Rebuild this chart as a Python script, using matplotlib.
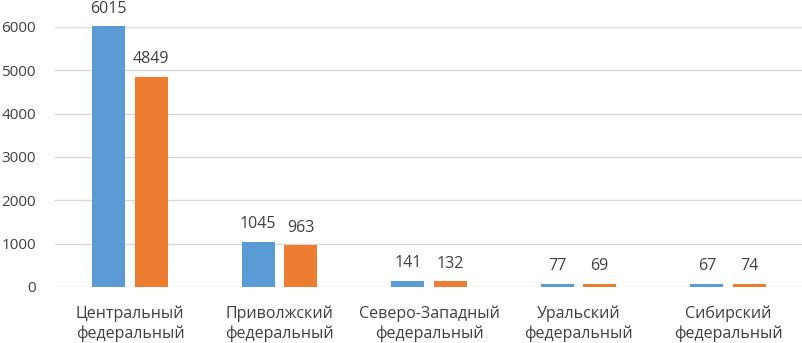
import matplotlib.pyplot as plt
import numpy as np

categories = ["Центральный\nфедеральный", "Приволжский\nфедеральный",
              "Северо-Западный\nфедеральный", "Уральский\nфедеральный",
              "Сибирский\nфедеральный"]
series_a = [6015, 1045, 141, 77, 67]
series_b = [4849, 963, 132, 69, 74]
yticks = [0, 1000, 2000, 3000, 4000, 5000, 6000]

BLUE = "#5B9BD5"
ORANGE = "#ED7D31"

plt.rcParams['font.family'] = ['Open Sans', 'DejaVu Sans']

fig = plt.figure(figsize=(8.02, 3.43), dpi=100)
ax = fig.add_axes([55.25 / 802, 56 / 343, 747.5 / 802, 260 / 343])

x = np.arange(len(categories))
w = 0.22
off = 0.142
bars_a = ax.bar(x - off, series_a, w, color=BLUE, zorder=3, clip_on=False)
bars_b = ax.bar(x + off, series_b, w, color=ORANGE, zorder=3, clip_on=False)

for bars in (bars_a, bars_b):
    for b in bars:
        ax.annotate(f"{int(b.get_height())}",
                    (b.get_x() + b.get_width() / 2, b.get_height()),
                    xytext=(0, 7), textcoords="offset points",
                    ha="center", va="bottom", fontsize=11.5,
                    color="#404040", annotation_clip=False)

ax.set_xlim(-0.5, len(categories) - 0.5)
ax.set_ylim(0, 6000)
ax.set_yticks(yticks)
ax.set_xticks(x)
ax.set_xticklabels(categories, fontsize=11.5, color="#404040", linespacing=1.35)
ax.tick_params(axis="y", labelsize=11, labelcolor="#404040", length=0, pad=14)
ax.tick_params(axis="x", length=0, pad=13)
ax.grid(axis="y", color="#D9D9D9", lw=1, zorder=0)
for s in ax.spines.values():
    s.set_visible(False)

fig.savefig("out.png", dpi=100, facecolor="white")
